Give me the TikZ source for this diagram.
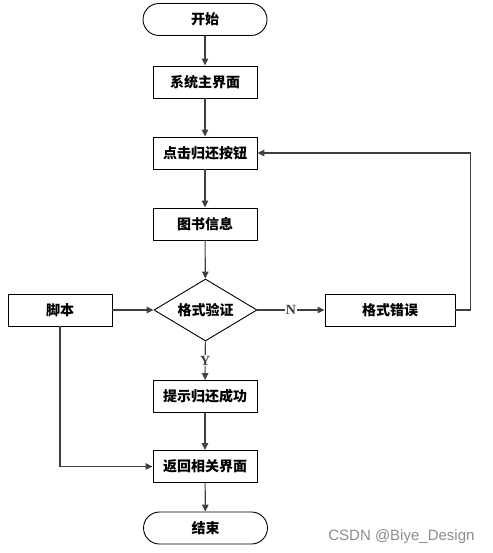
\documentclass[tikz,border=0pt]{standalone}
\usepackage{fontspec}
\setmainfont{Noto Sans CJK SC}
\newfontfamily\latinserif{Liberation Serif}[BoldFont={Liberation Serif Bold}]
\newfontfamily\marksans{Liberation Sans}
\usetikzlibrary{positioning,arrows.meta,shapes.geometric}

\begin{document}
\begin{tikzpicture}[x=1pt, y=-1pt,
    box/.style={draw, line width=0.9pt, minimum width=104pt, minimum height=32pt,
                font=\fontsize{14}{15}\selectfont\bfseries, inner sep=0pt},
    term/.style={box, rounded corners=16pt, minimum width=124pt},
    decide/.style={draw, diamond, line width=0.9pt, minimum width=103pt, minimum height=62pt,
                font=\fontsize{14}{15}\selectfont\bfseries, inner sep=0pt, shape aspect=1.66},
    arr/.style={-{Triangle[length=7pt, width=6.5pt]}, line width=1.1pt, black!75},
    yn/.style={font=\latinserif\bfseries\fontsize{14}{15}\selectfont, fill=white, inner sep=1pt}
  ]
  \useasboundingbox (0,0) rectangle (492,553);
  % --- main flow ---
  \node[term] (start) at (205,19.5) {开始};
  \node[box] (menu) at (205,82) {系统主界面};
  \node[box] (btn) at (205,153) {点击归还按钮};
  \node[box] (info) at (205,224) {图书信息};
  \node[decide] (check) at (205.5,310) {格式验证};
  \node[box] (ok) at (205,396.5) {提示归还成功};
  \node[box] (back) at (205,466.5) {返回相关界面};
  \node[term] (stop) at (205.5,528) {结束};
  % --- side boxes ---
  \node[box] (script) at (60,310) {脚本};
  \node[box, minimum width=130pt] (err) at (390,310) {格式错误};

  \draw[arr] (start) -- (menu);
  \draw[arr] (menu) -- (btn);
  \draw[arr] (btn) -- (info);
  \draw[arr] (info) -- (check);
  \draw[arr] (check) -- node[yn] {N} (err);
  \draw[arr] (check) -- node[yn] {Y} (ok);
  \draw[arr] (ok) -- (back);
  \draw[arr] (back) -- (stop);
  % loop back after an error
  \draw[arr] (err.east) -- ++(15,0) |- (btn.east);
  \draw[arr] (script) -- (check);
  \draw[arr] (script.south) |- (back.west);

  \node[font=\marksans\fontsize{15}{16}\selectfont, text=black!45, anchor=base east] (mark) at (478,540) {CSDN @Biye\_Design};
\end{tikzpicture}
\end{document}
